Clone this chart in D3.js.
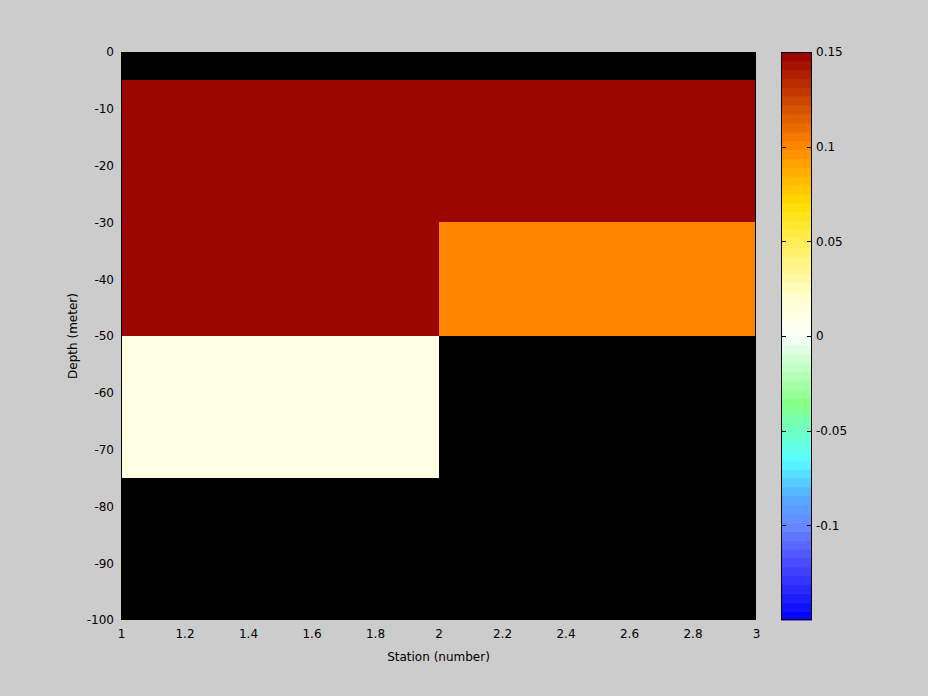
<!DOCTYPE html>
<html><head><meta charset="utf-8">
<script src="https://cdn.jsdelivr.net/npm/d3@7"></script>
<style>
html,body{margin:0;padding:0;background:#cccccc;}
text{font-family:"DejaVu Sans","Liberation Sans",sans-serif;}
</style></head>
<body><svg id="chart" width="928" height="696"></svg>
<script>
// Data
const stationEdges = [1, 2, 3];
const depthEdges = [0, -5, -30, -50, -75, -100];
// values per station column, per depth layer (top to bottom); NaN = no data (black)
const station1Values = [NaN, 0.15, 0.15, 0.01, NaN];
const station2Values = [NaN, 0.15, 0.10, NaN, NaN];
const xTicks = [1, 1.2, 1.4, 1.6, 1.8, 2, 2.2, 2.4, 2.6, 2.8, 3];
const yTicks = [0, -10, -20, -30, -40, -50, -60, -70, -80, -90, -100];
const cbTicks = [0.15, 0.1, 0.05, 0, -0.05, -0.1];
const cLim = [-0.15, 0.15];
const nLevels = 64;
// colormap anchor stops
const cmapStops = [-0.15, -0.12, -0.1, -0.085, -0.065, -0.035, 0, 0.005, 0.02, 0.05, 0.07, 0.1, 0.15];
const cmapColors = ["#0000ff", "#4a4aff", "#6688ff", "#55aaff", "#55ffff", "#88ff88", "#f6fffa", "#fffff2", "#ffffd0", "#ffee55", "#ffdd00", "#ff8800", "#960000"];

const svg = d3.select("#chart");
const W = 928, H = 696;
const m = {left: 121, right: 756, top: 52, bottom: 620};

const x = d3.scaleLinear().domain([1, 3]).range([m.left, m.right]);
const y = d3.scaleLinear().domain([0, -100]).range([m.top, m.bottom]);

const fmt = d => d3.format("~g")(d).replace("\u2212", "-");

const cont = d3.scaleLinear().domain(cmapStops).range(cmapColors).interpolate(d3.interpolateRgb);
const levelColor = i => cont(cLim[0] + (i + 0.5) * (cLim[1] - cLim[0]) / nLevels);
const colorOf = v => {
  if (v == null || isNaN(v)) return "#000000";
  let i = Math.floor((v - cLim[0]) / (cLim[1] - cLim[0]) * nLevels);
  i = Math.max(0, Math.min(nLevels - 1, i));
  return levelColor(i);
};

// cells
const columns = [station1Values, station2Values];
const cells = [];
columns.forEach((col, ci) => {
  col.forEach((v, ri) => {
    cells.push({x0: stationEdges[ci], x1: stationEdges[ci + 1], y0: depthEdges[ri], y1: depthEdges[ri + 1], v});
  });
});
svg.append("g").selectAll("rect").data(cells).join("rect")
  .attr("x", d => x(d.x0))
  .attr("y", d => y(d.y0))
  .attr("width", d => x(d.x1) - x(d.x0))
  .attr("height", d => y(d.y1) - y(d.y0))
  .attr("fill", d => colorOf(d.v))
  .attr("shape-rendering", "crispEdges");

// axes box
svg.append("rect").attr("x", m.left + 0.5).attr("y", m.top + 0.5)
  .attr("width", m.right - m.left - 1).attr("height", m.bottom - m.top - 1)
  .attr("fill", "none").attr("stroke", "#000").attr("shape-rendering", "crispEdges");

const fs = 12;
// x axis
const xAxis = d3.axisBottom(x).tickValues(xTicks).tickSize(0).tickPadding(9).tickFormat(fmt);
const gx = svg.append("g").attr("transform", `translate(0,${m.bottom})`).call(xAxis);
gx.select(".domain").remove();
gx.selectAll("text").attr("font-size", fs).attr("fill", "#000").attr("font-family", "DejaVu Sans, sans-serif");

// y axis
const yAxis = d3.axisLeft(y).tickValues(yTicks).tickSize(0).tickPadding(7).tickFormat(fmt);
const gy = svg.append("g").attr("transform", `translate(${m.left},0)`).call(yAxis);
gy.select(".domain").remove();
gy.selectAll("text").attr("font-size", fs).attr("fill", "#000").attr("font-family", "DejaVu Sans, sans-serif");

svg.append("text").attr("x", (m.left + m.right) / 2).attr("y", 661)
  .attr("text-anchor", "middle").attr("font-size", fs).text("Station (number)");
svg.append("text").attr("transform", `translate(77,${(m.top + m.bottom) / 2}) rotate(-90)`)
  .attr("text-anchor", "middle").attr("font-size", fs).text("Depth (meter)");

// colorbar
const cb = {left: 781, right: 812, top: 52, bottom: 620};
const cy = d3.scaleLinear().domain(cLim).range([cb.bottom, cb.top]);
const levels = d3.range(nLevels);
svg.append("g").selectAll("rect").data(levels).join("rect")
  .attr("x", cb.left)
  .attr("width", cb.right - cb.left)
  .attr("y", i => cy(cLim[0] + (i + 1) * (cLim[1] - cLim[0]) / nLevels))
  .attr("height", i => cy(cLim[0] + i * (cLim[1] - cLim[0]) / nLevels) - cy(cLim[0] + (i + 1) * (cLim[1] - cLim[0]) / nLevels) + 0.5)
  .attr("fill", i => levelColor(i));
svg.append("rect").attr("x", cb.left + 0.5).attr("y", cb.top + 0.5)
  .attr("width", cb.right - cb.left - 1).attr("height", cb.bottom - cb.top - 1)
  .attr("fill", "none").attr("stroke", "#000").attr("shape-rendering", "crispEdges");
const tg = svg.append("g").selectAll("g").data(cbTicks).join("g");
tg.append("line").attr("x1", cb.left).attr("x2", cb.left + 5)
  .attr("y1", d => Math.round(cy(d)) + 0.5).attr("y2", d => Math.round(cy(d)) + 0.5)
  .attr("stroke", "#000");
tg.append("line").attr("x1", cb.right - 5).attr("x2", cb.right)
  .attr("y1", d => Math.round(cy(d)) + 0.5).attr("y2", d => Math.round(cy(d)) + 0.5)
  .attr("stroke", "#000");
tg.append("text").attr("x", cb.right + 4).attr("y", d => cy(d)).attr("dy", "0.35em")
  .attr("font-size", fs).text(d => fmt(d));
</script>
</body></html>
